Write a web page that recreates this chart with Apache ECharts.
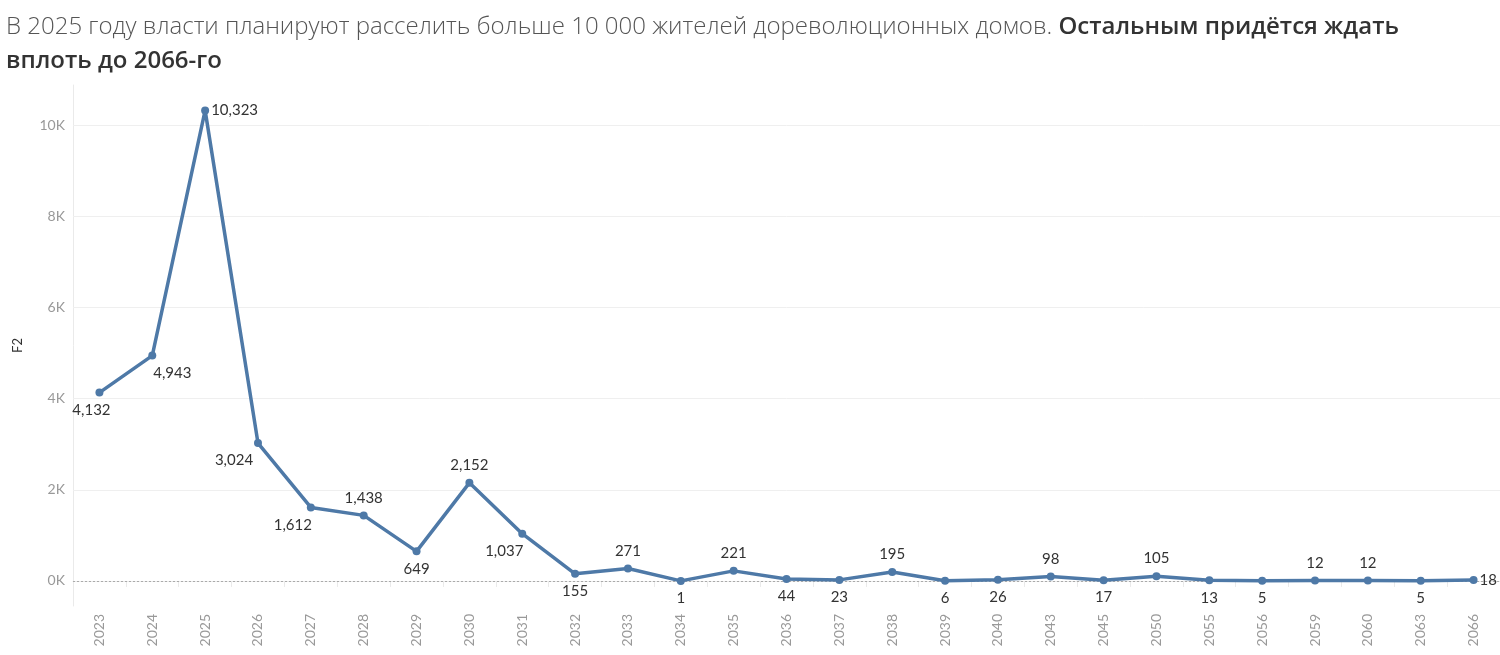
<!DOCTYPE html>
<html><head><meta charset="utf-8">
<script src="https://cdn.jsdelivr.net/npm/echarts@6/dist/echarts.min.js"></script>
<style>html,body{margin:0;padding:0;background:#fff}#c{width:1500px;height:655px}</style>
</head><body><div id="c"></div>
<script>
const years = ['2023','2024','2025','2026','2027','2028','2029','2030','2031','2032','2033','2034','2035','2036','2037','2038','2039','2040','2043','2045','2050','2055','2056','2059','2060','2063','2066'];
const values = [4132,4943,10323,3024,1612,1438,649,2152,1037,155,271,1,221,44,23,195,6,26,98,17,105,13,5,12,12,5,18];
const yTicks = [0,2000,4000,6000,8000,10000];
// label placement per point (style)
const labelPlace = ['bl','br','r','bl2','bl','t','b','t','bl','b','t','b','t','b','b','t','b','b','t','b','t','b','b','t','t','b','r'];

const font = 'Lato, "Open Sans", sans-serif';
const titleFont = '"Open Sans", "Noto Sans", sans-serif';
function labelFor(p){
  const base = {show:true, color:'#333', fontSize:15, fontFamily:font};
  if(p==='t') return Object.assign(base,{position:'top', distance:6});
  if(p==='b') return Object.assign(base,{position:'bottom', distance:6});
  if(p==='r') return Object.assign(base,{position:'right', distance:2});
  if(p==='br') return Object.assign(base,{position:'bottom', distance:6, offset:[20,0]});
  if(p==='bl') return Object.assign(base,{position:'bottom', distance:6, offset:[-18,0]});
  if(p==='bl2') return Object.assign(base,{position:'bottom', distance:6, offset:[-24,0]});
}
const fmt = v => v.toLocaleString('en-US');
const seriesData = values.map((v,i)=>{
  const lab = labelFor(labelPlace[i]);
  if(i===0) lab.offset=[-8,0];
  return {value:v, label:lab};
});

const chart = echarts.init(document.getElementById('c'));
chart.setOption({
  animation:false,
  title:{
    left:1, top:5,
    text:'{n|В 2025 году власти планируют расселить больше 10 000 жителей дореволюционных домов. }{b|Остальным придётся ждать}\n{b|вплоть до 2066-го}',
    textStyle:{
      fontFamily:titleFont, fontSize:24, lineHeight:34,
      rich:{
        n:{fontFamily:titleFont, fontSize:24, color:'#555', fontWeight:300, lineHeight:34},
        b:{fontFamily:titleFont, fontSize:24, color:'#333', fontWeight:600, lineHeight:34}
      }
    }
  },
  grid:{left:73, right:0, top:85, bottom:49, containLabel:false},
  xAxis:{
    type:'category', data:years, boundaryGap:true,
    axisLine:{show:true, lineStyle:{color:'#eaeaea'}},
    axisTick:{show:true, length:6, lineStyle:{color:'#eaeaea'}},
    axisLabel:{rotate:90, color:'#999', fontSize:14, fontFamily:font, margin:8, interval:0}
  },
  yAxis:{
    type:'value', min:-550, max:10880,
    name:'F2', nameLocation:'middle', nameGap:49, nameRotate:90,
    nameTextStyle:{color:'#333', fontSize:13, fontFamily:font},
    axisLine:{show:true, lineStyle:{color:'#eaeaea'}},
    axisTick:{show:false},
    splitLine:{show:false},
    axisLabel:{show:true, customValues:yTicks, color:'#999', fontSize:14, fontFamily:font, margin:8,
      formatter:v=> (v/1000)+'K'}
  },
  series:[{
    type:'line', data:seriesData,
    symbol:'circle', symbolSize:8,
    lineStyle:{color:'#4e79a7', width:3.5},
    itemStyle:{color:'#4e79a7'},
    label:{show:true, formatter:p=>fmt(p.value)},
    z:5,
    markLine:{
      silent:true, symbol:'none', label:{show:false},
      data: yTicks.map(v=>({yAxis:v, lineStyle: v===0 ? {color:'#aaa', type:[2,2], width:1} : {color:'#efefef', type:'solid', width:1}}))
    }
  }]
});
</script></body></html>
